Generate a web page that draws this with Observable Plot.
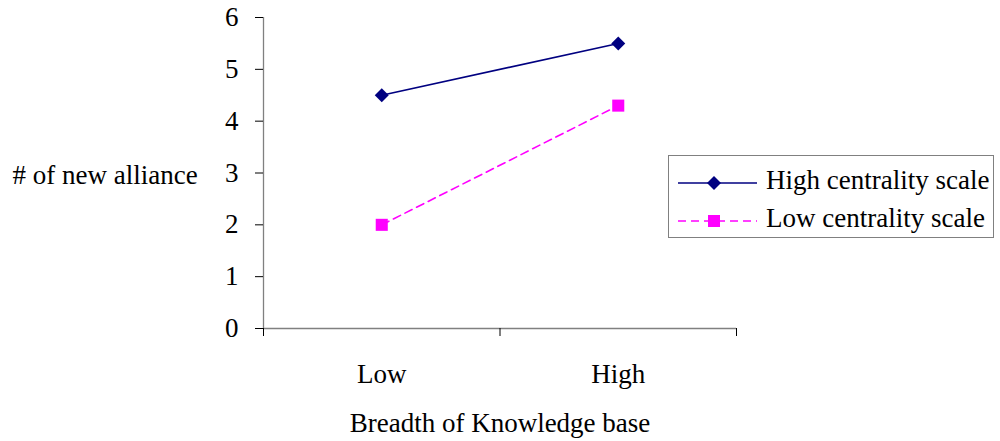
<!DOCTYPE html>
<html><head><meta charset="utf-8">
<script src="https://cdn.jsdelivr.net/npm/d3@7"></script>
<script src="https://cdn.jsdelivr.net/npm/@observablehq/plot@0.6"></script>
<style>
body{margin:0;background:#fff;}
#wrap{position:relative;width:1000px;height:441px;}
#legend{position:absolute;left:668px;top:155px;width:326px;height:83px;border:1px solid #808080;background:#fff;box-sizing:border-box;}
#legend svg{display:block;}
</style></head><body><div id="wrap"></div>
<script>
const categories = ["Low", "High"];
const seriesNames = ["High centrality scale", "Low centrality scale"];
const highCentrality = [4.5, 5.5];
const lowCentrality = [2.0, 4.3];
const yTicks = [0, 1, 2, 3, 4, 5, 6];
const xLabel = "Breadth of Knowledge base";
const yLabel = "# of new alliance";
const colors = ["#000080", "#FF00FF"];
const symbols = ["diamond2", "square"];

const FONT = "'Liberation Serif', serif";
const FS = 27;

const catPos = categories.map((c, i) => i + 0.5);
const bandEdges = d3.range(categories.length + 1);

const rows = [];
[highCentrality, lowCentrality].forEach((vals, s) => {
  vals.forEach((v, i) => rows.push({series: seriesNames[s], x: catPos[i], cat: categories[i], value: v}));
});
const hi = rows.filter(d => d.series === seriesNames[0]);
const lo = rows.filter(d => d.series === seriesNames[1]);

const chart = Plot.plot({
  width: 1000,
  height: 441,
  marginLeft: 263,
  marginRight: 264,
  marginTop: 17,
  marginBottom: 113,
  style: {fontFamily: FONT, fontSize: FS + "px", color: "#000", background: "#fff", overflow: "visible"},
  x: {type: "linear", domain: [0, categories.length]},
  y: {domain: [0, 6]},
  marks: [
    Plot.ruleX([0], {y1: 0, y2: 6, stroke: "#808080", strokeWidth: 1.3}),
    Plot.ruleY([0], {x1: 0, x2: categories.length, stroke: "#808080", strokeWidth: 1.3}),
    Plot.axisY({ticks: yTicks, tickSize: 8, tickPadding: 17, label: null, fontSize: FS, stroke: "#000", tickFormat: d3.format("d")}),
    Plot.axisX({ticks: bandEdges, tickSize: 8, tickFormat: () => "", label: null, stroke: "#000"}),
    Plot.axisX({ticks: catPos, tickSize: 0, tickPadding: 35, label: null, fontSize: FS,
      tickFormat: d => categories[Math.round(d - 0.5)]}),
    Plot.line(hi, {x: "x", y: "value", stroke: colors[0], strokeWidth: 1.6}),
    Plot.line(lo, {x: "x", y: "value", stroke: colors[1], strokeWidth: 1.6, strokeDasharray: "8,5"}),
    Plot.dot(hi, {x: "x", y: "value", symbol: symbols[0], r: 6.3, fill: colors[0], stroke: "none"}),
    Plot.dot(lo, {x: "x", y: "value", symbol: symbols[1], r: 6.8, fill: colors[1], stroke: "none"}),
    Plot.text([xLabel], {frameAnchor: "bottom", dy: 95, lineAnchor: "middle", fontSize: FS, fill: "#000"}),
    Plot.text([yLabel], {frameAnchor: "left", dx: -251, dy: 2, textAnchor: "start", lineAnchor: "middle", fontSize: FS, fill: "#000"})
  ]
});
const wrap = document.getElementById("wrap");
wrap.appendChild(chart);

// legend
const leg = document.createElement("div");
leg.id = "legend";
wrap.appendChild(leg);
const svg = d3.select(leg).append("svg").attr("width", 324).attr("height", 81);
const rowY = [27, 65];
seriesNames.forEach((name, i) => {
  const g = svg.append("g");
  g.append("line").attr("x1", 9).attr("x2", 88).attr("y1", rowY[i]).attr("y2", rowY[i])
    .attr("stroke", colors[i]).attr("stroke-width", 1.6)
    .attr("stroke-dasharray", i === 1 ? "8,5" : null);
  const r = i === 0 ? 6.3 : 6.8;
  const sym = i === 0 ? d3.symbolDiamond2 : d3.symbolSquare;
  g.append("path").attr("d", d3.symbol(sym, Math.PI * r * r)()).attr("transform", `translate(45,${rowY[i]})`)
    .attr("fill", colors[i]);
  g.append("text").attr("x", 97).attr("y", rowY[i] + 6).attr("font-size", FS)
    .attr("fill", "#000").text(name);
});

// force the serif face on every text node with inline styles
d3.select(wrap).selectAll("text, tspan").each(function() {
  this.style.setProperty("font-family", FONT, "important");
});
</script>
</body></html>
